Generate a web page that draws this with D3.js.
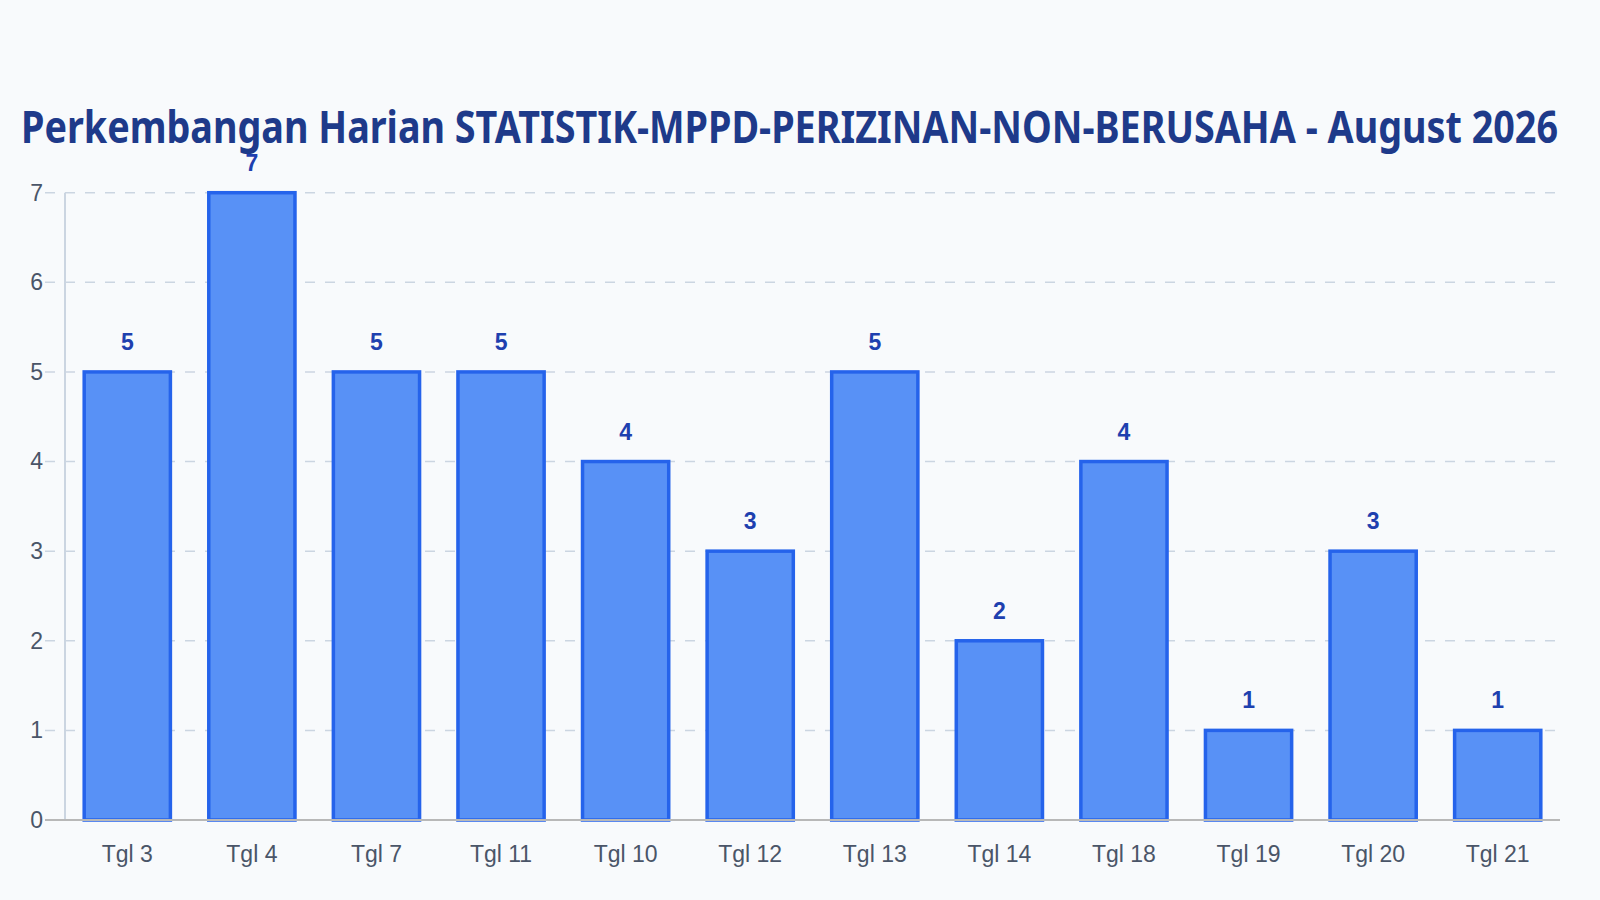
<!DOCTYPE html>
<html>
<head>
<meta charset="utf-8">
<script src="https://cdn.jsdelivr.net/npm/d3@7"></script>
<style>
  html, body { margin: 0; padding: 0; background: #f8fafc; }
  svg { display: block; }
</style>
</head>
<body>
<div id="chart"></div>
<script>
(function() {
    let w = 1600;
    let h = 900;

    // data
    let titleText = "Perkembangan Harian STATISTIK-MPPD-PERIZINAN-NON-BERUSAHA - August 2026";
    let days = ["Tgl 3", "Tgl 4", "Tgl 7", "Tgl 11", "Tgl 10", "Tgl 12", "Tgl 13", "Tgl 14", "Tgl 18", "Tgl 19", "Tgl 20", "Tgl 21"];
    let counts = [5, 7, 5, 5, 4, 3, 5, 2, 4, 1, 3, 1];
    let yTicks = [0, 1, 2, 3, 4, 5, 6, 7];

    let left = 65, right = 1560, top = 192.7, bottom = 820;

    let svg = d3.select("#chart")
        .append("svg")
        .attr("width", w)
        .attr("height", h);

    svg.append("rect")
        .attr("width", w)
        .attr("height", h)
        .attr("fill", "#f8fafc");

    let x = d3.scaleBand()
        .domain(days)
        .range([left, right])
        .paddingInner(0.28)
        .paddingOuter(0.14);

    let y = d3.scaleLinear()
        .domain([0, 7])
        .range([bottom, top]);

    // title
    svg.append("text")
        .attr("x", 21)
        .attr("y", 143)
        .attr("textLength", 1537)
        .attr("lengthAdjust", "spacingAndGlyphs")
        .attr("font-family", "'Noto Sans', 'Open Sans', sans-serif")
        .attr("font-weight", 700)
        .attr("font-size", 45)
        .attr("fill", "#1e3a8a")
        .text(titleText);

    // grid lines
    svg.append("g")
        .selectAll("line")
        .data(yTicks.filter(d => d > 0))
        .enter()
        .append("line")
        .attr("x1", 45)
        .attr("x2", 1556)
        .attr("y1", d => y(d))
        .attr("y2", d => y(d))
        .attr("stroke", "#cbd5e1")
        .attr("stroke-width", 1.5)
        .attr("stroke-dasharray", "10,10");

    // y axis
    let yAxis = svg.append("g")
        .attr("transform", "translate(" + left + ",0)")
        .call(d3.axisLeft(y).tickValues(yTicks).tickSize(0).tickPadding(22).tickFormat(d3.format("d")));
    yAxis.select(".domain")
        .attr("stroke", "#cbd5e1")
        .attr("stroke-width", 2)
        .attr("d", "M0," + top + "V" + bottom);
    yAxis.selectAll("text")
        .attr("font-family", "'Liberation Sans', Arial, sans-serif")
        .attr("font-size", 23)
        .attr("fill", "#4a5568");

    // bars
    svg.append("g")
        .selectAll("rect")
        .data(counts)
        .enter()
        .append("rect")
        .attr("x", (d, i) => x(days[i]) + 1.75)
        .attr("y", d => y(d))
        .attr("width", x.bandwidth() - 3.5)
        .attr("height", d => bottom - y(d))
        .attr("fill", "#5891f6")
        .attr("stroke", "#2563eb")
        .attr("stroke-width", 3.5);

    // value labels
    svg.append("g")
        .selectAll("text")
        .data(counts)
        .enter()
        .append("text")
        .attr("x", (d, i) => x(days[i]) + x.bandwidth() / 2)
        .attr("y", d => y(d) - 22)
        .attr("text-anchor", "middle")
        .attr("font-family", "'Liberation Sans', Arial, sans-serif")
        .attr("font-weight", 700)
        .attr("font-size", 23)
        .attr("fill", "#1e40af")
        .text(d => d);

    // x axis
    let xAxis = svg.append("g")
        .attr("transform", "translate(0," + bottom + ")")
        .call(d3.axisBottom(x).tickSize(0).tickPadding(26));
    xAxis.select(".domain")
        .attr("stroke", "#b8b8b8")
        .attr("stroke-width", 2)
        .attr("d", "M45,0H" + right);
    xAxis.selectAll("text")
        .attr("font-family", "'Liberation Sans', Arial, sans-serif")
        .attr("font-size", 23)
        .attr("fill", "#4a5568");
})();
</script>
</body>
</html>
